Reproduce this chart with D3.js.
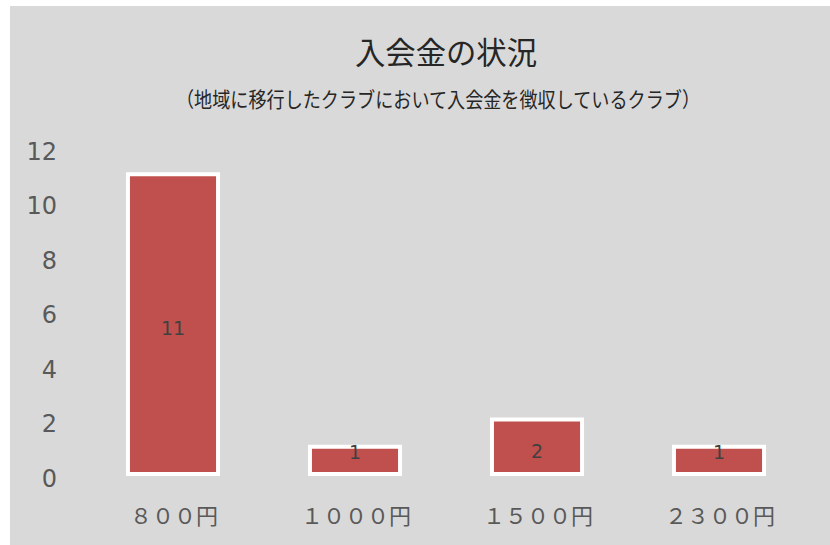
<!DOCTYPE html>
<html lang="ja">
<head>
  <meta charset="UTF-8">
  <title>入会金の状況</title>
  <script src="https://d3js.org/d3.v7.min.js"></script>
  <style>
    body { margin: 0; padding: 0; background: #ffffff; }
    .cjk { font-family: "Noto Sans CJK JP", sans-serif; }
    .num { font-family: "DejaVu Sans", Verdana, sans-serif; }
  </style>
</head>
<body>
<div id="chart"></div>
<script>
// data
const categories = ["８００円", "１０００円", "１５００円", "２３００円"];
const counts = [11, 1, 2, 1];
const yTicks = [0, 2, 4, 6, 8, 10, 12];
const title = "入会金の状況";
const subtitle = "（地域に移行したクラブにおいて入会金を徴収しているクラブ）";

const W = 830, H = 545;
const svg = d3.select("#chart").append("svg")
    .attr("width", W)
    .attr("height", H);

// chart area background
svg.append("rect")
    .attr("x", 10).attr("y", 6)
    .attr("width", W - 10).attr("height", H - 6)
    .attr("fill", "#d9d9d9");

const x = d3.scaleBand()
    .domain(categories)
    .range([82, 810])
    .paddingInner(0.505)
    .paddingOuter(0.2525);

const y = d3.scaleLinear()
    .domain([0, 12])
    .range([474, 147]);

// y axis labels (no line, no gridlines)
const yAxis = d3.axisLeft(y).tickValues(yTicks).tickSize(0).tickPadding(0);
const gy = svg.append("g")
    .attr("transform", "translate(57,0)")
    .call(yAxis);
gy.select(".domain").remove();
gy.selectAll("text")
    .attr("class", "num")
    .attr("font-size", 24)
    .attr("fill", "#595959")
    .attr("dy", "0.5em");

// x axis labels
const xAxis = d3.axisBottom(x).tickSize(0).tickPadding(0);
const gx = svg.append("g")
    .attr("transform", "translate(0,515)")
    .call(xAxis);
gx.select(".domain").remove();
gx.selectAll("text")
    .attr("class", "cjk")
    .attr("font-size", 22)
    .attr("fill", "#595959")
    .attr("dy", "0.4em")
    .attr("dx", 1);

// bars
svg.selectAll(".bar")
    .data(counts)
    .enter().append("rect")
    .attr("class", "bar")
    .attr("x", (d, i) => x(categories[i]))
    .attr("y", d => y(d))
    .attr("width", x.bandwidth())
    .attr("height", d => y(0) - y(d))
    .attr("fill", "#c0504d")
    .attr("stroke", "#ffffff")
    .attr("stroke-width", 4);

// data labels
svg.selectAll(".lbl")
    .data(counts)
    .enter().append("text")
    .attr("class", "num lbl")
    .attr("x", (d, i) => x(categories[i]) + x.bandwidth() / 2)
    .attr("y", d => d < 2 ? y(d) + 5 : (y(d) + y(0)) / 2 + 4)
    .attr("dy", "0.36em")
    .attr("text-anchor", "middle")
    .attr("font-size", 19)
    .attr("fill", "#404040")
    .text(d => d);

// titles
svg.append("text")
    .attr("class", "cjk")
    .attr("x", 446).attr("y", 64)
    .attr("text-anchor", "middle")
    .attr("font-size", 31)
    .attr("fill", "#262626")
    .attr("textLength", 182)
    .attr("lengthAdjust", "spacingAndGlyphs")
    .text(title);

svg.append("text")
    .attr("class", "cjk")
    .attr("x", 438).attr("y", 107)
    .attr("text-anchor", "middle")
    .attr("font-size", 21)
    .attr("fill", "#262626")
    .attr("textLength", 524)
    .attr("lengthAdjust", "spacingAndGlyphs")
    .text(subtitle);
</script>
</body>
</html>
